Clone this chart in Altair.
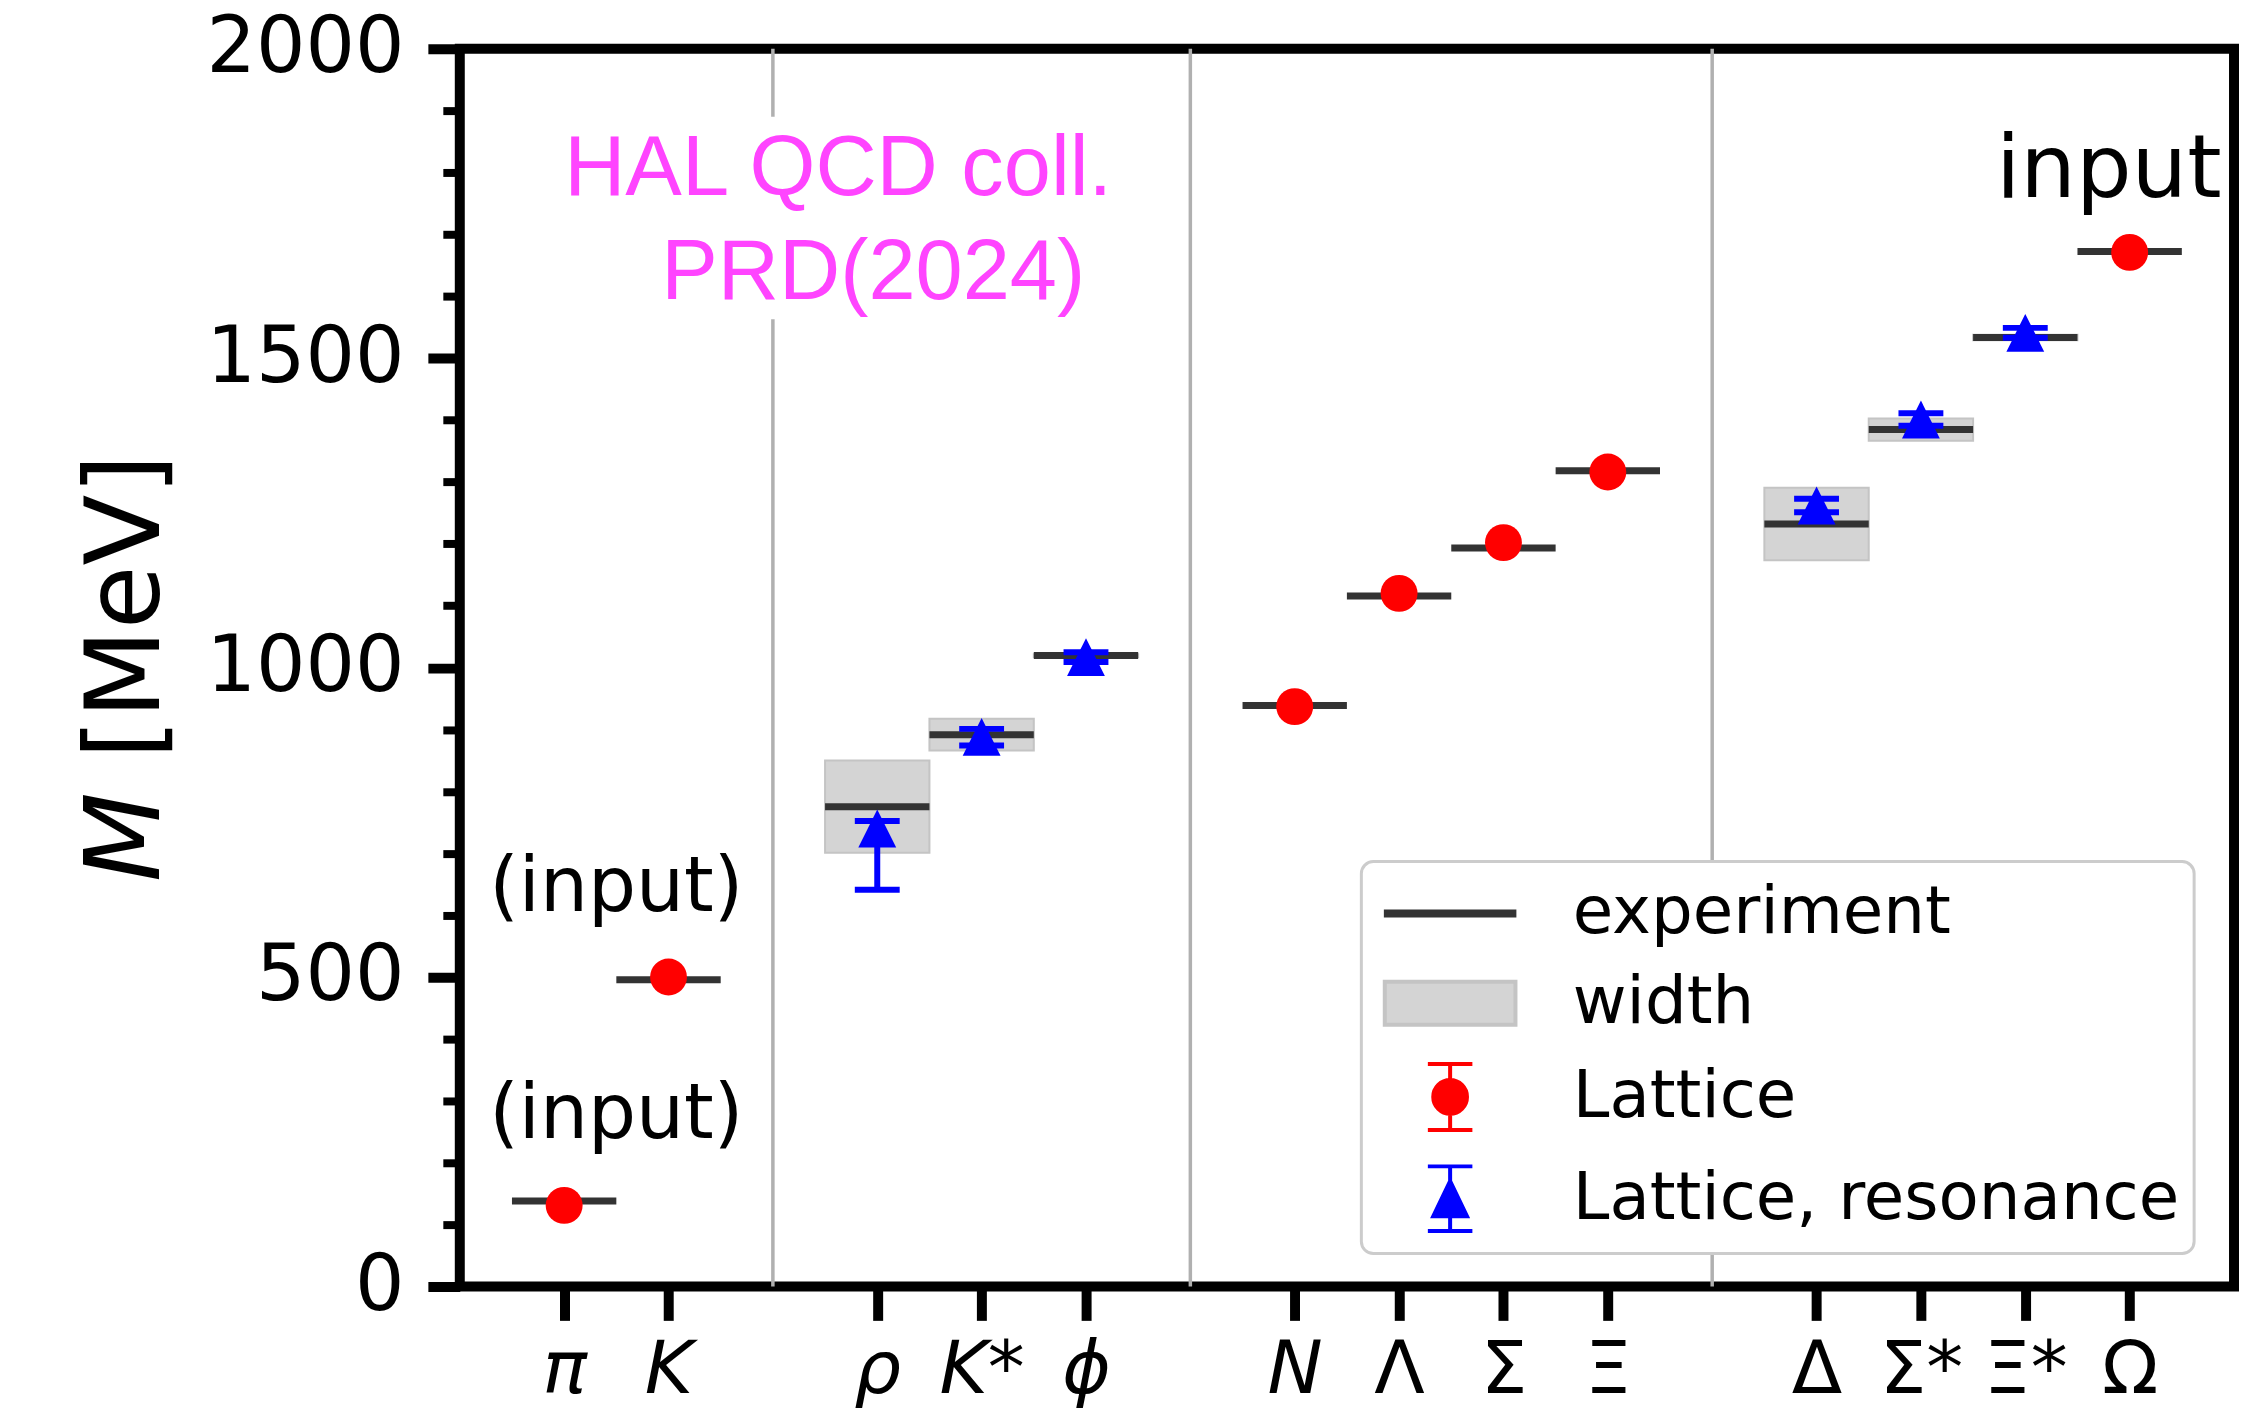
import json
import altair as alt
import pandas as pd

# ---------------- data ----------------
hadrons = ["π", "K", "ρ", "K*", "ϕ", "N", "Λ", "Σ", "Ξ", "Δ", "Σ*", "Ξ*", "Ω"]
hadron_pos = [1, 2, 4, 5, 6, 8, 9, 10, 11, 13, 14, 15, 16]
exp_mass = [138.0, 495.6, 775.3, 891.7, 1019.5, 938.9, 1115.7, 1193.2, 1318.3,
            1232.0, 1384.6, 1533.4, 1672.5]
exp_width = [0.0, 0.0, 149.1, 51.4, 4.3, 0.0, 0.0, 0.0, 0.0, 117.0, 36.0, 9.1, 0.0]

stable_pos = [1, 2, 8, 9, 10, 11, 16]
stable_mass = [131, 500, 937, 1120, 1202, 1316, 1671]

res_pos = [4, 5, 6, 13, 14, 15]
res_mass = [740, 888, 1017, 1262, 1401, 1541]
res_low = [641, 874, 1009, 1251, 1391, 1533]
res_high = [752, 901, 1025, 1273, 1411, 1549]

dividers = [3, 7, 12]
y_ticks = list(range(0, 2001, 100))

legend_labels = ["experiment", "width", "Lattice", "Lattice, resonance"]

input_small_x = [1.5, 1.5]
input_small_y = [607, 240]
input_small_text = ["(input)", "(input)"]
input_big_x = [15.8]
input_big_y = [1760]
input_big_text = ["input"]

credit_x = [1.0, 1.93]
credit_y = [1763, 1595]
credit_text = ["HAL QCD coll.", "PRD(2024)"]
credit_box_x = [0.9, 6.3]
credit_box_y = [1563, 1890]

# ---------------- scales / axes ----------------
xs = alt.Scale(domain=[0, 17], nice=False, zero=False)
ys = alt.Scale(domain=[0, 2000], nice=False, zero=False)

label_map = {p: n for p, n in zip(hadron_pos, hadrons)}
label_arr = [label_map.get(i, "") for i in range(18)]
x_label_expr = json.dumps(label_arr, ensure_ascii=False) + "[datum.value]"

x_axis = alt.Axis(
    values=hadron_pos, labelExpr=x_label_expr, title=None, domain=False, grid=False,
    tickSize=34, tickWidth=10, tickColor="black",
    labelFont="DejaVu Sans", labelFontSize=74, labelColor="black", labelPadding=14,
    labelFlush=False, labelOverlap=False, labelLimit=0,
    labelFontStyle={"condition": {"test": "datum.value <= 8", "value": "italic"}, "value": "normal"},
)
y_axis = alt.Axis(
    values=y_ticks, format="d",
    labelExpr="datum.value % 500 === 0 ? datum.label : ''",
    title="𝘔 [MeV]", titleFont="DejaVu Sans", titleFontSize=104, titleFontWeight="normal",
    titleColor="black", titlePadding=80,
    domain=False, grid=False, tickColor="black",
    tickSize={"condition": {"test": "datum.value % 500 === 0", "value": 32}, "value": 17},
    tickWidth={"condition": {"test": "datum.value % 500 === 0", "value": 10}, "value": 8},
    labelFont="DejaVu Sans", labelFontSize=78, labelColor="black", labelPadding=24,
    labelOverlap=False, labelLimit=0,
)


def X(field):
    return alt.X(field, type="quantitative", scale=xs, axis=x_axis)


def Y(field):
    return alt.Y(field, type="quantitative", scale=ys, axis=y_axis)


# ---------------- layers ----------------
exp_df = pd.DataFrame({"name": hadrons, "pos": hadron_pos, "mass": exp_mass, "width": exp_width})

div_layer = alt.Chart(pd.DataFrame({"x": dividers})).mark_rule(
    color="#b0b0b0", strokeWidth=3.5
).encode(x=X("x"), y=alt.datum(0), y2=alt.datum(2000))

box_df = pd.DataFrame({"x": [credit_box_x[0]], "x2": [credit_box_x[1]],
                       "y": [credit_box_y[0]], "y2": [credit_box_y[1]]})
credit_box = alt.Chart(box_df).mark_rect(color="white").encode(
    x=X("x"), x2="x2", y=Y("y"), y2="y2")

width_layer = alt.Chart(exp_df).transform_filter("datum.width > 0").transform_calculate(
    xl="datum.pos - 0.5", xh="datum.pos + 0.5",
    yl="datum.mass - datum.width / 2", yh="datum.mass + datum.width / 2",
).mark_rect(fill="#d4d4d4", stroke="#c4c4c4", strokeWidth=2).encode(
    x=X("xl"), x2="xh:Q", y=Y("yl"), y2="yh:Q")

exp_layer = alt.Chart(exp_df).transform_calculate(
    xl="datum.pos - 0.5", xh="datum.pos + 0.5"
).mark_rule(color="#333333", strokeWidth=7).encode(x=X("xl"), x2="xh:Q", y=Y("mass"))

res_df = pd.DataFrame({"pos": res_pos, "mass": res_mass, "low": res_low, "high": res_high})
stem_layer = alt.Chart(res_df).mark_rule(color="blue", strokeWidth=6).encode(
    x=X("pos"), y=Y("low"), y2="high:Q")
cap_layer = alt.Chart(res_df).transform_fold(["low", "high"], as_=["end", "val"]).mark_tick(
    orient="horizontal", size=45, thickness=6, color="blue", opacity=1
).encode(x=X("pos"), y=Y("val"))

stable_df = pd.DataFrame({"pos": stable_pos, "mass": stable_mass})
circle_layer = alt.Chart(stable_df).mark_point(
    shape="circle", filled=True, size=1369, color="#ff0000", opacity=1, strokeWidth=0
).encode(x=X("pos"), y=Y("mass"))

tri_layer = alt.Chart(res_df).mark_point(
    shape="M0,-1L1,1L-1,1Z", filled=True, size=1440, color="#0000ff", opacity=1, strokeWidth=0
).encode(x=X("pos"), y=Y("mass"))

small_df = pd.DataFrame({"x": input_small_x, "y": input_small_y, "t": input_small_text})
small_text = alt.Chart(small_df).mark_text(
    font="DejaVu Sans", fontSize=76, align="center", baseline="alphabetic", color="black"
).encode(x=X("x"), y=Y("y"), text="t:N")

big_df = pd.DataFrame({"x": input_big_x, "y": input_big_y, "t": input_big_text})
big_text = alt.Chart(big_df).mark_text(
    font="DejaVu Sans", fontSize=88, align="center", baseline="alphabetic", color="black"
).encode(x=X("x"), y=Y("y"), text="t:N")

credit_df = pd.DataFrame({"x": credit_x, "y": credit_y, "t": credit_text})
credit_layer = alt.Chart(credit_df).mark_text(
    font="Liberation Sans", fontSize=85, align="left", baseline="alphabetic", color="#ff44ff"
).encode(x=X("x"), y=Y("y"), text="t:N")

# legend (custom symbols)
shape_paths = [
    "M-1.79,-0.055H1.79V0.055H-1.79Z",
    "M-1.82,-0.6H1.82V0.6H-1.82Z",
    "M-0.62,-0.92H0.62M0,-0.92V0.92M-0.62,0.92H0.62M0.47,0A0.47,0.47 0 1 1 -0.47,0A0.47,0.47 0 1 1 0.47,0Z",
    "M-0.62,-0.9H0.62M0,-0.9V0.9M-0.62,0.9H0.62M0,-0.49L0.47,0.49L-0.47,0.49Z",
]
fill_colors = ["#333333", "#d4d4d4", "#ff0000", "#0000ff"]
stroke_colors = ["#333333", "#c4c4c4", "#ff0000", "#0000ff"]

leg = alt.Legend(
    title=None, orient="none", legendX=904, legendY=815, padding=14,
    symbolSize=5184, symbolStrokeWidth=4, symbolOffset=37, labelOffset=85, rowPadding=19,
    labelFont="DejaVu Sans", labelFontSize=66, labelColor="black", labelLimit=0,
    fillColor="white", strokeColor="#cccccc", cornerRadius=12,
)
legend_df = pd.DataFrame({"series": legend_labels, "xv": [None] * 4, "yv": [None] * 4})
legend_layer = alt.Chart(legend_df).mark_point(filled=True, opacity=1, strokeWidth=4).encode(
    x=X("xv"), y=Y("yv"),
    shape=alt.Shape("series:N", scale=alt.Scale(domain=legend_labels, range=shape_paths), legend=leg),
    fill=alt.Fill("series:N", scale=alt.Scale(domain=legend_labels, range=fill_colors), legend=leg),
    stroke=alt.Stroke("series:N", scale=alt.Scale(domain=legend_labels, range=stroke_colors), legend=leg),
)

chart = alt.layer(
    div_layer, credit_box, width_layer, exp_layer, stem_layer, cap_layer,
    circle_layer, tri_layer, small_text, big_text, credit_layer, legend_layer,
).properties(
    width=1779, height=1241,
    autosize=alt.AutoSizeParams(type="none"),
    padding={"left": 453, "top": 39, "right": 5, "bottom": 125},
).configure_view(stroke="black", strokeWidth=10).configure_legend(strokeWidth=3)

chart.save("out.html", embed_options={"renderer": "svg", "actions": False})
